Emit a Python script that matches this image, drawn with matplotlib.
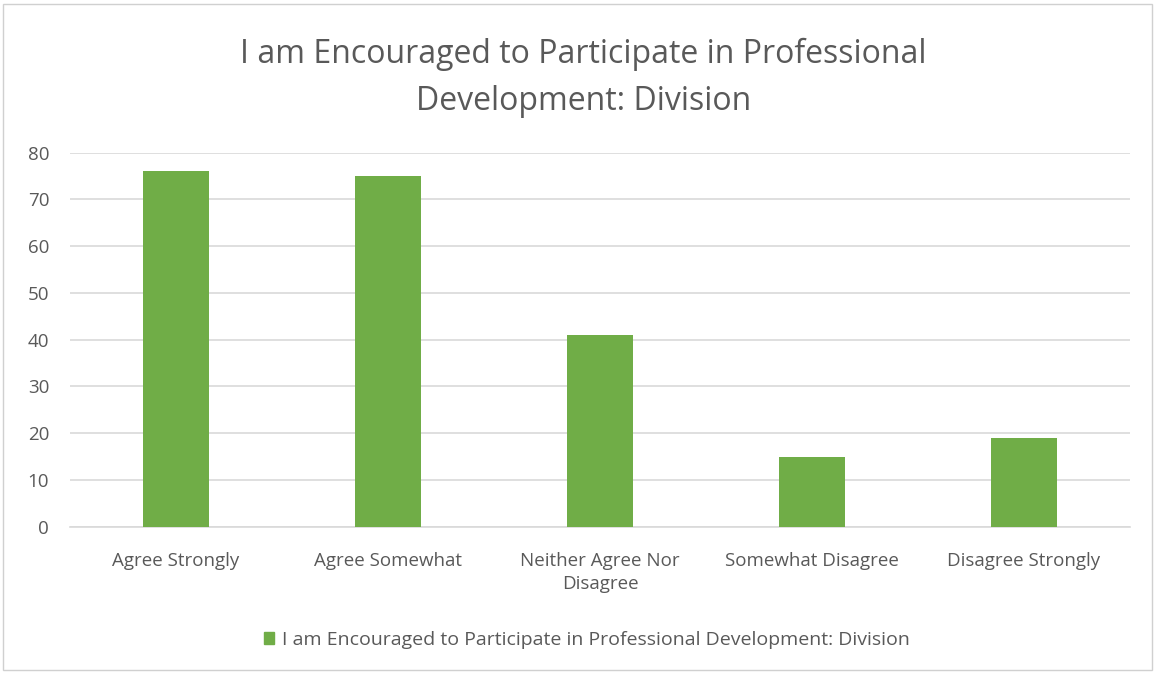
import matplotlib.pyplot as plt
from matplotlib.patches import Patch

categories = ["Agree Strongly", "Agree Somewhat", "Neither Agree Nor\nDisagree",
              "Somewhat Disagree", "Disagree Strongly"]
counts = [76, 75, 41, 15, 19]
y_ticks = [0, 10, 20, 30, 40, 50, 60, 70, 80]
series_name = "I am Encouraged to Participate in Professional Development: Division"
title = "I am Encouraged to Participate in Professional\nDevelopment: Division"

plt.rcParams['font.family'] = ['Open Sans', 'DejaVu Sans']
text_grey = "#595959"
bar_green = "#70AD47"
grid_grey = "#D9D9D9"

fig = plt.figure(figsize=(11.55, 6.73), dpi=100)
ax = fig.add_axes([70 / 1155, 1 - 526.7 / 673, 1060 / 1155, 374 / 673])

x = range(len(categories))
ax.bar(x, counts, width=0.31, color=bar_green, zorder=3)

ax.set_xlim(-0.5, len(categories) - 0.5)
ax.set_ylim(0, 80)
ax.set_yticks(y_ticks)
ax.set_xticks(list(x))
ax.set_xticklabels(categories, linespacing=1.4)
ax.tick_params(axis='both', length=0, colors=text_grey, labelsize=13.5)
ax.tick_params(axis='x', pad=18)
ax.tick_params(axis='y', pad=15)

ax.grid(axis='y', color=grid_grey, linewidth=1.2, zorder=0)
for side in ['top', 'right', 'left']:
    ax.spines[side].set_visible(False)
ax.spines['bottom'].set_color(grid_grey)
ax.spines['bottom'].set_linewidth(1.2)

fig.text(0.505, 1 - 78 / 673, title, ha='center', va='center',
         fontsize=23, color=text_grey, linespacing=1.55)

handle = Patch(facecolor=bar_green, edgecolor=bar_green)
fig.legend([handle], [series_name], loc='center', bbox_to_anchor=(0.508, 1 - 640 / 673),
           frameon=False, fontsize=14, labelcolor=text_grey,
           handlelength=0.55, handleheight=0.55, handletextpad=0.4)

# thin frame around the whole chart
fig.add_artist(plt.Rectangle((0.003, 0.004), 0.994, 0.99, transform=fig.transFigure,
                             fill=False, edgecolor="#D0D0D0", linewidth=1))

fig.savefig("out.png", dpi=100)
